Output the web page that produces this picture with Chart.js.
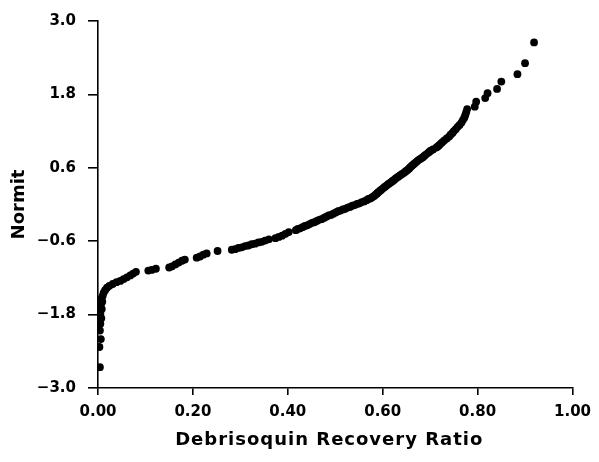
<!DOCTYPE html>
<html>
<head>
<meta charset="utf-8">
<script src="https://cdn.jsdelivr.net/npm/chart.js@4/dist/chart.umd.min.js"></script>
<style>
  html, body { margin: 0; padding: 0; background: #fff; }
  canvas { display: block; }
</style>
</head>
<body>
<canvas id="chart" width="599" height="462"></canvas>
<script>
// Debrisoquin recovery ratio of each subject (x) and its normit (y), in rank order
const recoveryRatio = [
  0.004, 0.003, 0.006, 0.004, 0.005, 0.007, 0.005, 0.008, 0.006, 0.009, 0.007,
  0.010, 0.012, 0.015, 0.019, 0.024, 0.031, 0.039, 0.047, 0.054, 0.061, 0.068, 0.074, 0.080,
  0.106, 0.113, 0.122, 0.150, 0.156, 0.163, 0.170, 0.177, 0.183, 0.208, 0.215, 0.222, 0.229,
  0.252, 0.282, 0.289, 0.296, 0.303, 0.310, 0.317, 0.324, 0.331, 0.338, 0.345, 0.352, 0.360,
  0.374, 0.381, 0.388, 0.395, 0.402,
  0.417, 0.421, 0.426, 0.431, 0.436, 0.441, 0.446, 0.451, 0.456, 0.461, 0.466, 0.471, 0.476,
  0.481, 0.486, 0.491, 0.496, 0.501, 0.506, 0.511, 0.516, 0.521, 0.526, 0.531, 0.536, 0.541,
  0.546, 0.551, 0.556, 0.561, 0.566, 0.570, 0.574, 0.578,
  0.582, 0.585, 0.588, 0.589, 0.592, 0.595, 0.597, 0.600, 0.603, 0.605, 0.608, 0.611, 0.613,
  0.617, 0.620, 0.622, 0.625, 0.628, 0.632, 0.634, 0.637, 0.641, 0.645, 0.648, 0.650, 0.653,
  0.656, 0.658, 0.661, 0.664, 0.667, 0.670, 0.673, 0.676, 0.680, 0.684, 0.687, 0.690, 0.695,
  0.698, 0.701, 0.706, 0.713, 0.716, 0.719, 0.723, 0.726, 0.730, 0.735, 0.740, 0.743, 0.747,
  0.750, 0.754, 0.758, 0.762, 0.766, 0.769, 0.772, 0.774, 0.776, 0.778,
  0.794, 0.797, 0.816, 0.821, 0.841, 0.850, 0.884, 0.900, 0.919
];
const normit = [
  -2.66, -2.33, -2.20, -2.06, -1.95, -1.86, -1.78, -1.71, -1.65, -1.59, -1.54,
  -1.49, -1.44, -1.40, -1.36, -1.33, -1.30, -1.27, -1.25, -1.22, -1.19, -1.16, -1.13, -1.10,
  -1.08, -1.07, -1.05, -1.03, -1.01, -0.98, -0.95, -0.92, -0.90, -0.87, -0.85, -0.82, -0.80,
  -0.76, -0.74, -0.73, -0.71, -0.70, -0.68, -0.67, -0.65, -0.64, -0.62, -0.61, -0.59, -0.57,
  -0.55, -0.53, -0.51, -0.48, -0.45,
  -0.42, -0.40, -0.39, -0.37, -0.35, -0.34, -0.32, -0.30, -0.29, -0.27, -0.25, -0.24, -0.22,
  -0.20, -0.18, -0.17, -0.15, -0.13, -0.11, -0.10, -0.08, -0.07, -0.05, -0.04, -0.02, -0.01,
  0.01, 0.02, 0.04, 0.05, 0.07, 0.09, 0.10, 0.12,
  0.14, 0.16, 0.18, 0.19, 0.21, 0.23, 0.24, 0.26, 0.28, 0.29, 0.31, 0.33, 0.34,
  0.36, 0.38, 0.39, 0.41, 0.43, 0.45, 0.46, 0.48, 0.50, 0.52, 0.54, 0.55, 0.57,
  0.59, 0.61, 0.63, 0.65, 0.67, 0.69, 0.71, 0.73, 0.75, 0.77, 0.79, 0.81, 0.84,
  0.86, 0.88, 0.90, 0.93, 0.95, 0.97, 1.00, 1.02, 1.05, 1.08, 1.11, 1.14, 1.17,
  1.20, 1.23, 1.27, 1.30, 1.34, 1.38, 1.42, 1.46, 1.51, 1.56,
  1.60, 1.68, 1.74, 1.82, 1.89, 2.01, 2.13, 2.31, 2.65
];

const xTicks = [0.0, 0.2, 0.4, 0.6, 0.8, 1.0];
const yTicks = [-3.0, -1.8, -0.6, 0.6, 1.8, 3.0];
const xTitle = 'Debrisoquin Recovery Ratio';
const yTitle = 'Normit';

const points = recoveryRatio.map((x, i) => ({ x: x, y: normit[i] }));

const FONT = "'DejaVu Sans', 'Liberation Sans', Arial, sans-serif";
const INK = '#000';

function fixedTicks(values) {
  return function (scale) {
    scale.ticks = values.map(v => ({ value: v }));
  };
}

// Letter-spaced x-axis title, set a little left of the plot centre under the tick labels
const xTitlePlugin = {
  id: 'xTitle',
  afterDraw(chart) {
    const { ctx, chartArea } = chart;
    ctx.save();
    ctx.font = "bold 18px " + FONT;
    ctx.fillStyle = INK;
    ctx.textAlign = 'center';
    ctx.textBaseline = 'middle';
    if ('letterSpacing' in ctx) ctx.letterSpacing = '1px';
    const cx = (chartArea.left + chartArea.right) / 2 - 6;
    ctx.fillText(xTitle, cx, chartArea.bottom + 52);
    ctx.restore();
  }
};

new Chart(document.getElementById('chart'), {
  type: 'scatter',
  data: {
    datasets: [{
      data: points,
      backgroundColor: INK,
      borderWidth: 0,
      pointRadius: 3.9,
      pointHoverRadius: 3.9
    }]
  },
  plugins: [xTitlePlugin],
  options: {
    responsive: false,
    animation: false,
    events: [],
    layout: { padding: { top: 21, right: 22, bottom: 0, left: 0 } },
    plugins: { legend: { display: false }, tooltip: { enabled: false } },
    scales: {
      x: {
        type: 'linear',
        min: 0,
        max: 1,
        afterBuildTicks: fixedTicks(xTicks),
        afterFit: s => { s.height = 74; },
        border: { display: true, color: INK, width: 1.6 },
        grid: { display: true, drawOnChartArea: false, drawTicks: true, tickLength: 7, color: INK, lineWidth: 1.6 },
        ticks: {
          color: INK,
          padding: 8,
          maxRotation: 0,
          autoSkip: false,
          font: { family: FONT, size: 15, weight: 'bold' },
          callback: v => Number(v).toFixed(2)
        },
        title: { display: false }
      },
      y: {
        type: 'linear',
        min: -3,
        max: 3,
        afterBuildTicks: fixedTicks(yTicks),
        afterFit: s => { s.width = 98; },
        border: { display: true, color: INK, width: 1.6 },
        grid: { display: true, drawOnChartArea: false, drawTicks: true, tickLength: 10, color: INK, lineWidth: 1.6 },
        ticks: {
          color: INK,
          padding: 12,
          autoSkip: false,
          font: { family: FONT, size: 15, weight: 'bold' },
          callback: v => (v < 0 ? '\u2212' : '') + Math.abs(Number(v)).toFixed(1)
        },
        title: {
          display: true,
          text: yTitle,
          color: INK,
          padding: { top: 9, bottom: 0 },
          font: { family: FONT, size: 18, weight: 'bold' }
        }
      }
    }
  }
});
</script>
</body>
</html>
